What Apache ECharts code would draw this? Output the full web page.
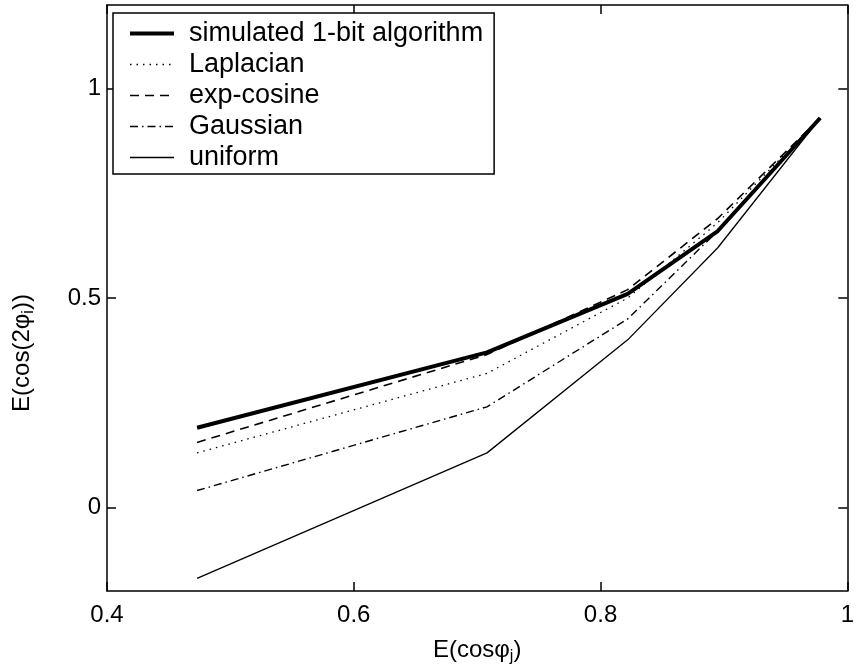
<!DOCTYPE html>
<html>
<head>
<meta charset="utf-8">
<script src="https://cdn.jsdelivr.net/npm/echarts@6/dist/echarts.min.js"></script>
<style>
  html, body { margin: 0; padding: 0; background: #fff; }
  #chart { width: 857px; height: 670px; }
</style>
</head>
<body>
<div id="chart"></div>
<script>
// x positions shared by every curve
const xValues = [0.473, 0.708, 0.822, 0.895, 0.978]
const names = ['simulated 1-bit algorithm', 'Laplacian', 'exp-cosine', 'Gaussian', 'uniform']
const simulated = [0.19, 0.37, 0.51, 0.66, 0.93]
const laplacian = [0.13, 0.32, 0.50, 0.68, 0.93]
const expCosine = [0.155, 0.365, 0.52, 0.69, 0.93]
const gaussian = [0.04, 0.24, 0.45, 0.66, 0.93]
const uniform = [-0.17, 0.13, 0.40, 0.62, 0.93]
const yTicks = [0, 0.5, 1]

const font = 'Liberation Sans, Arial, sans-serif'
const pairs = ys => ys.map((y, i) => [xValues[i], y])

const styles = [
    { width: 4, type: 'solid' },
    { width: 1.3, type: [1.5, 5] },
    { width: 1.6, type: [9, 6] },
    { width: 1.4, type: [8, 4, 1.5, 4] },
    { width: 1.3, type: 'solid' }
]

const line = (name, ys, st) => ({
    name,
    type: 'line',
    data: pairs(ys),
    symbol: 'none',
    silent: true,
    itemStyle: { color: '#000' },
    lineStyle: { color: '#000', width: st.width, type: st.type }
})

const tickStyle = { inside: true, length: 9, lineStyle: { color: '#000', width: 1.5 } }
const axisLine = { show: true, onZero: false, lineStyle: { color: '#000', width: 1.5 } }

const chart = echarts.init(document.getElementById('chart'))
chart.setOption({
    animation: false,
    backgroundColor: '#fff',
    textStyle: { fontFamily: font },
    grid: { left: 107, right: 1, top: 5, bottom: 74, show: false },
    legend: {
        orient: 'vertical',
        left: 113,
        top: 13,
        padding: [7, 11, 3, 15],
        itemWidth: 44,
        itemHeight: 24,
        itemGap: 4,
        borderColor: '#000',
        borderWidth: 1.5,
        backgroundColor: '#fff',
        selectedMode: false,
        itemStyle: { opacity: 0 },
        textStyle: { fontSize: 27, color: '#000', fontFamily: font, lineHeight: 24, padding: [0, 0, 0, 10] },
        data: names.map((n, i) => ({
            name: n,
            itemStyle: { opacity: 0 },
            lineStyle: { color: '#000', width: styles[i].width, type: styles[i].type }
        }))
    },
    xAxis: [
        {
            type: 'value', min: 0.4, max: 1, interval: 0.2, position: 'bottom',
            axisLine, axisTick: tickStyle, splitLine: { show: false },
            axisLabel: { fontSize: 24, color: '#000', margin: 12, fontFamily: font },
            name: '{t|E(cosφ}{s|j}{t|)}',
            nameLocation: 'middle',
            nameGap: 44,
            nameTextStyle: {
                rich: {
                    t: { fontSize: 24, color: '#000', fontFamily: font },
                    s: { fontSize: 16, color: '#000', fontFamily: font, padding: [14, 0, 0, 0] }
                }
            }
        },
        {
            type: 'value', min: 0.4, max: 1, interval: 0.2, position: 'top',
            axisLine, axisTick: tickStyle, axisLabel: { show: false }, splitLine: { show: false }
        }
    ],
    yAxis: [
        {
            type: 'value', min: -0.2, max: 1.2, position: 'left',
            axisLine,
            axisTick: Object.assign({ customValues: yTicks }, tickStyle),
            splitLine: { show: false },
            axisLabel: { customValues: yTicks, fontSize: 24, color: '#000', margin: 6, fontFamily: font },
            name: '{t|E(cos(2φ}{s|i}{t|))}',
            nameLocation: 'middle',
            nameGap: 70,
            nameTextStyle: {
                padding: [0, 110, 0, 0],
                rich: {
                    t: { fontSize: 24, color: '#000', fontFamily: font },
                    s: { fontSize: 16, color: '#000', fontFamily: font, padding: [14, 0, 0, 0] }
                }
            }
        },
        {
            type: 'value', min: -0.2, max: 1.2, position: 'right',
            axisLine,
            axisTick: Object.assign({ customValues: yTicks }, tickStyle),
            axisLabel: { show: false }, splitLine: { show: false }
        }
    ],
    series: [
        line(names[0], simulated, styles[0]),
        line(names[1], laplacian, styles[1]),
        line(names[2], expCosine, styles[2]),
        line(names[3], gaussian, styles[3]),
        line(names[4], uniform, styles[4])
    ]
})
</script>
</body>
</html>
